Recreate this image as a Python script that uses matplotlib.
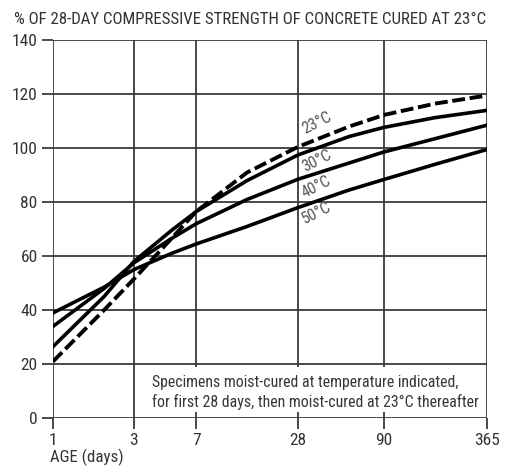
import matplotlib
matplotlib.use('Agg')
import matplotlib.pyplot as plt
from matplotlib import font_manager
from matplotlib.patches import Rectangle

# Pick a narrow font if one is around
installed = set(f.name for f in font_manager.fontManager.ttflist)
narrow = 'DejaVu Sans'
for name in ['Liberation Sans Narrow', 'DejaVu Sans Condensed', 'Roboto Condensed', 'Liberation Sans']:
    if name in installed:
        narrow = name
        break
plt.rcParams['font.family'] = [narrow, 'DejaVu Sans']

# Age in days and strength (% of 28-day strength at 23 C)
age = [1, 2, 3, 5, 7, 14, 28, 56, 90, 180, 365]
s23 = [21, 40, 51.5, 66.5, 76.5, 91, 100.5, 108, 112.3, 116.5, 119.5]
s30 = [26.5, 45, 58, 69.5, 76.5, 88, 97.5, 104.3, 107.7, 111.3, 114]
s40 = [34, 48, 57.5, 66.5, 72, 81, 88.5, 94.5, 98.6, 103.5, 108.5]
s50 = [39, 48.5, 55, 61, 64.5, 71, 78, 84.5, 88.4, 94, 99.5]

xticks = [1, 3, 7, 28, 90, 365]
yticks = [0, 20, 40, 60, 80, 100, 120, 140]

labels = ['23°C', '30°C', '40°C', '50°C']
label_x = [36, 36, 36, 36]
label_y = [109.5, 95.2, 85.5, 75.9]

grid_col = '#3a3a3a'
text_col = '#333333'

fig = plt.figure(figsize=(5.05, 4.73), dpi=100)
ax = fig.add_axes([0.105, 0.116, 0.859, 0.799])

ax.set_xscale('log')
ax.set_xlim(1, 365)
ax.set_ylim(0, 140)
ax.set_xticks(xticks)
ax.set_xticklabels([str(t) for t in xticks])
ax.minorticks_off()
ax.set_yticks(yticks)

for t in xticks:
    ax.axvline(t, color=grid_col, lw=1.3, zorder=1)
for t in yticks:
    ax.axhline(t, color=grid_col, lw=1.3, zorder=1)

for s in ax.spines.values():
    s.set_visible(False)

ax.tick_params(axis='both', direction='out', length=8, width=1.3, color=grid_col,
               labelsize=12.5, labelcolor=text_col, pad=3)

ax.plot(age, s23, color='black', lw=2.8, ls=(0, (3.3, 1.2)), zorder=4)
ax.plot(age, s30, color='black', lw=2.6, zorder=4)
ax.plot(age, s40, color='black', lw=2.6, zorder=4)
ax.plot(age, s50, color='black', lw=2.6, zorder=4)

for lab, lx, ly in zip(labels, label_x, label_y):
    ax.text(lx, ly, lab, rotation=27, ha='center', va='center', fontsize=11.5,
            color='#555555', zorder=5)

# Note box covering the grid
ax.add_patch(Rectangle((0.212, 0.016), 0.783, 0.119, transform=ax.transAxes,
                       facecolor='white', edgecolor='none', zorder=2))
ax.text(0.228, 0.115, 'Specimens moist-cured at temperature indicated,\n'
        'for first 28 days, then moist-cured at 23°C thereafter',
        transform=ax.transAxes, ha='left', va='top', fontsize=11.4,
        color='#3a3340', linespacing=1.3, zorder=3)

fig.text(0.028, 0.958, '% OF 28-DAY COMPRESSIVE STRENGTH OF CONCRETE CURED AT 23°C',
         ha='left', va='center', fontsize=12.2, color=text_col)
fig.text(0.099, 0.032, 'AGE (days)', ha='left', va='center', fontsize=12.2, color=text_col)

fig.savefig('out.png', dpi=100)
